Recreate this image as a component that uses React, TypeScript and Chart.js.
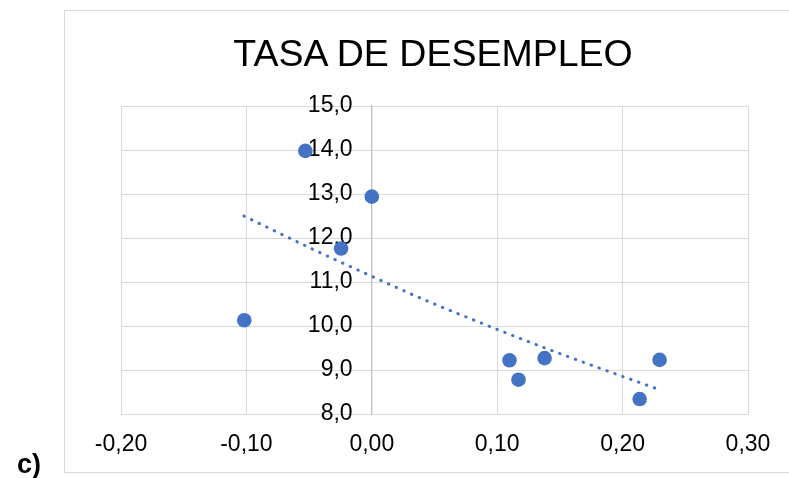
import React, { useEffect, useRef } from "react";
import { Chart, registerables } from "chart.js";

Chart.register(...registerables);

// Observed points (variación vs tasa de desempleo)
const xValues = [-0.053, 0.0, -0.0245, -0.1017, 0.1098, 0.117, 0.1378, 0.2295, 0.2136];
const yValues = [13.98, 12.94, 11.76, 10.13, 9.22, 8.78, 9.27, 9.23, 8.34];

// Trend line (exponential-looking dotted trendline)
const trendX = [-0.102, -0.04, 0.0, 0.04, 0.08, 0.14, 0.2295];
const trendY = [12.5, 11.65, 11.13, 10.62, 10.15, 9.48, 8.55];

const titleText = "TASA DE DESEMPLEO";
const panelLabel = "c)";

const FONT = '"Liberation Sans", Arial, sans-serif';
const BLUE = "#4472C4";

export default function App() {
  const canvasRef = useRef<HTMLCanvasElement | null>(null);

  useEffect(() => {
    const canvas = canvasRef.current;
    if (!canvas) return;
    const points = xValues.map((x, i) => ({ x, y: yValues[i] }));
    const trend = trendX.map((x, i) => ({ x, y: trendY[i] }));
    const fmt = (v: number, d: number) => {
      const n = Math.abs(v) < 1e-9 ? 0 : v;
      return n.toFixed(d).replace(".", ",");
    };
    const chart = new Chart(canvas, {
      type: "scatter",
      data: {
        datasets: [
          {
            label: "Tendencia",
            data: trend,
            showLine: true,
            borderColor: BLUE,
            borderWidth: 3,
            borderDash: [0.5, 7.9],
            borderCapStyle: "round",
            cubicInterpolationMode: "monotone",
            pointRadius: 0,
            pointHoverRadius: 0,
            fill: false,
          } as any,
          {
            label: "Tasa de desempleo",
            data: points,
            backgroundColor: BLUE,
            borderColor: BLUE,
            borderWidth: 0,
            pointRadius: 7.3,
            pointHoverRadius: 7.3,
          },
        ],
      },
      options: {
        responsive: false,
        animation: false,
        events: [],
        layout: { padding: { left: 121, right: 41, top: 106, bottom: 24 } },
        plugins: {
          legend: { display: false },
          title: { display: false },
          tooltip: { enabled: false },
        },
        scales: {
          x: {
            type: "linear",
            position: "bottom",
            min: -0.2,
            max: 0.3,
            ticks: {
              stepSize: 0.1,
              padding: 17,
              color: "#000000",
              font: { family: FONT, size: 23 },
              callback: (v: any) => fmt(Number(v), 2),
            },
            grid: { color: "#d9d9d9", lineWidth: 1, drawTicks: false },
            border: { display: true, color: "#d9d9d9", width: 1 },
            afterFit: (scale: any) => {
              scale.height = 40;
            },
          },
          y: {
            type: "linear",
            position: { x: 0 } as any,
            min: 8,
            max: 15,
            ticks: {
              stepSize: 1,
              padding: 21,
              color: "#000000",
              font: { family: FONT, size: 23 },
              callback: (v: any) => fmt(Number(v), 1) + "   ",
            },
            grid: { color: "#d9d9d9", lineWidth: 1, drawTicks: false },
            border: { display: true, color: "#bfbfbf", width: 1.3 },
          },
        },
      },
    });
    return () => chart.destroy();
  }, []);

  return (
    <div
      style={{
        position: "fixed",
        left: 0,
        top: 0,
        width: 789,
        height: 478,
        overflow: "hidden",
        background: "#ffffff",
      }}
    >
      <div
        style={{
          position: "absolute",
          left: 64,
          top: 10,
          width: 780,
          height: 463,
          border: "1px solid #d9d9d9",
          boxSizing: "border-box",
        }}
      />
      <canvas
        ref={canvasRef}
        width={789}
        height={478}
        style={{ position: "absolute", left: 0, top: 0, width: 789, height: 478 }}
      />
      <div
        style={{
          position: "absolute",
          left: 0,
          top: 34.7,
          width: 866,
          textAlign: "center",
          fontFamily: FONT,
          fontSize: 37.5,
          lineHeight: "37.5px",
          color: "#000000",
          whiteSpace: "nowrap",
        }}
      >
        {titleText}
      </div>
      <div
        style={{
          position: "absolute",
          left: 17,
          top: 451,
          fontFamily: FONT,
          fontSize: 27,
          fontWeight: "bold",
          lineHeight: "27px",
          color: "#000000",
        }}
      >
        {panelLabel}
      </div>
    </div>
  );
}
